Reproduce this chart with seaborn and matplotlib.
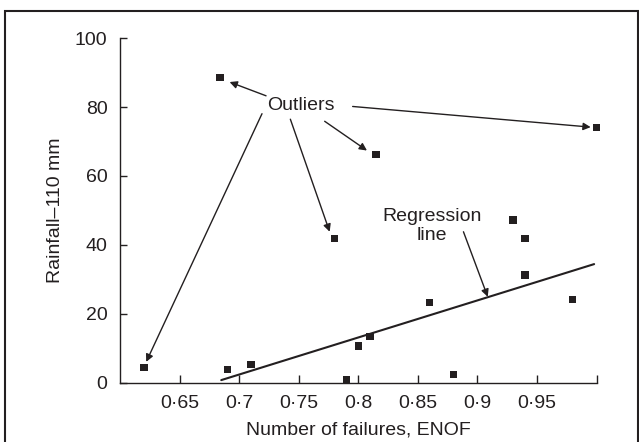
import seaborn as sns
import matplotlib.pyplot as plt
import pandas as pd
from matplotlib.patches import Rectangle

# data
enof = [0.62, 0.69, 0.71, 0.78, 0.79, 0.80, 0.81, 0.684, 0.815, 1.0,
        0.86, 0.88, 0.93, 0.94, 0.94, 0.98]
rainfall = [4.4, 3.8, 5.3, 41.9, 0.9, 10.6, 13.4, 88.7, 66.3, 74.0,
            23.3, 2.4, 47.2, 41.9, 31.2, 24.2]

reg_x = [0.685, 0.998]
reg_y = [0.7, 34.4]

xticks = [0.65, 0.7, 0.75, 0.8, 0.85, 0.9, 0.95, 1.0]
xtick_labels = ["0·65", "0·7", "0·75", "0·8", "0·85", "0·9", "0·95", ""]
yticks = [0, 20, 40, 60, 80, 100]

# arrows: (text x, text y) -> (target x, target y)
outlier_arrows = [
    ((0.7226, 83.3), (0.692, 87.3)),
    ((0.7718, 75.9), (0.8073, 67.4)),
    ((0.7953, 80.2), (0.9951, 74.2)),
    ((0.743, 76.5), (0.776, 43.8)),
    ((0.7192, 78.1), (0.622, 6.0)),
]
reg_arrow = ((0.8883, 43.8), (0.9087, 24.9))

df = pd.DataFrame({"enof": enof, "rain": rainfall})
ink = "#231f20"

sns.set_style("ticks")
plt.rcParams["font.family"] = ["Liberation Sans", "DejaVu Sans"]
plt.rcParams["font.size"] = 14

fig = plt.figure(figsize=(6.39, 4.42), dpi=100)
ax = fig.add_axes([0.1878, 0.1346, 0.9335 - 0.1878, 0.9133 - 0.1346])

sns.lineplot(x=reg_x, y=reg_y, ax=ax, color=ink, lw=1.5)
sns.scatterplot(data=df, x="enof", y="rain", ax=ax, marker="s", s=28,
                color=ink, edgecolor="none", zorder=3, clip_on=False)

ax.set_xlim(0.6, 1.0)
ax.set_ylim(0, 100)
ax.set_xticks(xticks)
ax.set_xticklabels(xtick_labels)
ax.set_yticks(yticks)
ax.tick_params(axis="x", direction="in", length=5.8, width=1, colors=ink,
               labelsize=14, pad=9)
ax.tick_params(axis="y", direction="in", length=4.8, width=1, colors=ink,
               labelsize=14, pad=9)
for s in ["top", "right"]:
    ax.spines[s].set_visible(False)
for s in ["left", "bottom"]:
    ax.spines[s].set_color(ink)
    ax.spines[s].set_linewidth(1)

ax.set_xlabel("Number of failures, ENOF", fontsize=14, color=ink, labelpad=7)
ax.set_ylabel("Rainfall–110 mm", fontsize=14, color=ink, labelpad=8)

ax.text(0.7522, 80.4, "Outliers", ha="center", va="center", fontsize=14, color=ink)
ax.text(0.8618, 45.5, "Regression\nline", ha="center", va="center", fontsize=14,
        color=ink, linespacing=1.1)

aprops = dict(arrowstyle="-|>", color=ink, lw=1, mutation_scale=11,
              shrinkA=0, shrinkB=0)
for (sx, sy), (ex, ey) in outlier_arrows + [reg_arrow]:
    ax.annotate("", xy=(ex, ey), xytext=(sx, sy), arrowprops=aprops)

# outer frame of the figure
fig.patches.append(Rectangle((4.5 / 639, -0.1), 633 / 639, 1.1 - 11 / 442,
                             transform=fig.transFigure, fill=False,
                             edgecolor=ink, lw=1.5, figure=fig))

fig.savefig("out.png", dpi=100)
